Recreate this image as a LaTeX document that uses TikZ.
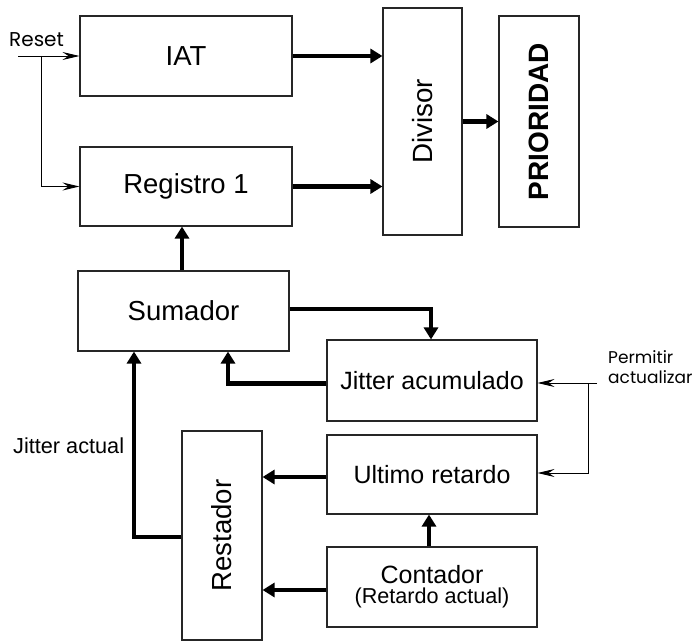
\documentclass[tikz,border=0pt]{standalone}
\usepackage{fontspec}
\setmainfont{Liberation Sans}
\newfontfamily\geofont{Poppins}
\usetikzlibrary{arrows.meta}
\begin{document}
\begin{tikzpicture}[x=1pt,y=-1pt,
  block/.style={draw=black!85, line width=1.1pt, inner sep=0pt, align=center},
  big/.style={font=\fontsize{27.5}{30}\selectfont},
  mid/.style={font=\fontsize{25}{28}\selectfont},
  flow/.style={line width=4.5pt, -{Triangle[length=12pt,width=14pt]}},
  ctrl/.style={line width=0.9pt, -{Stealth[length=17pt,width=8pt,inset=6pt]}},
  note/.style={inner sep=0pt, font=\geofont\fontsize{17}{19.5}\selectfont, align=left},
]
\useasboundingbox (0,0) rectangle (694,642);

% upper row: inputs, divider and result
\node[block, big, minimum width=212pt, minimum height=80pt] (iat) at (186,56) {IAT};
\node[block, big, minimum width=212pt, minimum height=79pt] (reg) at (186,186.5) {Registro 1};
\node[block, minimum width=79pt, minimum height=227pt] (div) at (422.5,121.5)
  {\rotatebox{90}{\fontsize{27.8}{30}\selectfont Divisor}};
\node[block, minimum width=80pt, minimum height=211pt] (pri) at (539,121.5)
  {\rotatebox{90}{\fontsize{28}{30}\selectfont\bfseries PRIORIDAD}};

% jitter accumulation loop
\node[block, big, minimum width=211pt, minimum height=80pt] (sum) at (183.5,311) {Sumador};
\node[block, mid, minimum width=210pt, minimum height=81pt] (jit) at (432,380.5) {Jitter acumulado};
\node[block, mid, minimum width=210pt, minimum height=79pt] (ult) at (432,474.5) {Ultimo retardo};
\node[block, minimum width=210pt, minimum height=80pt] (con) at (432,587)
  {{\fontsize{25}{22}\selectfont Contador}\\[3pt]{\fontsize{21.6}{22}\selectfont (Retardo actual)}};
\node[block, minimum width=80pt, minimum height=209pt] (res) at (222,535.5)
  {\rotatebox{90}{\fontsize{27.6}{30}\selectfont Restador}};

% free labels
\node[note, anchor=base west, font=\geofont\fontsize{20}{22}\selectfont] (rlab) at (9,47) {Reset};
\node[note, anchor=base west] (plab) at (608,383) {Permitir\\actualizar};
\node[inner sep=0pt, anchor=base west, font=\fontsize{21.7}{24}\selectfont] (jlab) at (13,453) {Jitter actual};

% reset inputs
\coordinate (rin) at (18,56);
\coordinate (rsplit) at (41,56);
\draw[ctrl] (rin) -- (iat.west);
\draw[ctrl] (rsplit) |- (reg.west);

% update enable inputs
\coordinate (pin) at (597,383);
\coordinate (psplit) at (588,383);
\draw[ctrl] (pin) -- (pin -| jit.east);
\draw[ctrl] (psplit) |- ([yshift=1.5pt]ult.east);

% data paths
\draw[flow] (iat.east) -- (iat.east -| div.west);
\draw[flow] (reg.east) -- (reg.east -| div.west);
\draw[flow] (div.east) -- (pri.west);
\draw[flow] ([xshift=-1.5pt]sum.north) -- ([xshift=-1.5pt]sum.north |- reg.south);
\draw[flow] ([yshift=2pt]sum.east) -| ([xshift=-1pt]jit.north);
\draw[flow] ([yshift=-3pt]jit.west) -| ([xshift=44.5pt]sum.south);
\draw[flow] ([yshift=-1.5pt]res.west) -| ([xshift=-49.5pt]sum.south);
\draw[flow] ([yshift=-2.5pt]ult.west) -- ([yshift=-2.5pt]ult.west -| res.east);
\draw[flow] ([yshift=-3pt]con.west) -- ([yshift=-3pt]con.west -| res.east);
\draw[flow] ([xshift=-3pt]con.north) -- ([xshift=-3pt]ult.south);
\end{tikzpicture}
\end{document}
